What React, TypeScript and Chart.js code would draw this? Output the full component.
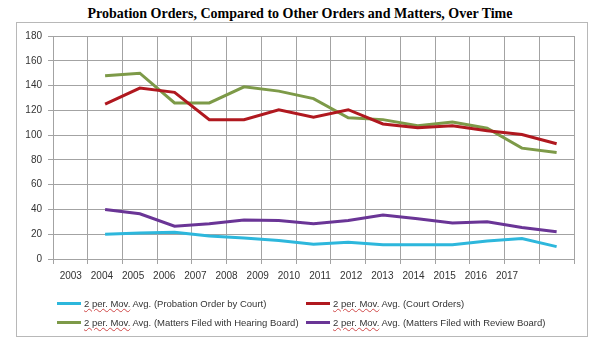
import React, { useEffect, useRef } from 'react';
import { Chart, registerables } from 'chart.js';

Chart.register(...registerables);

// ---- data ----
const categories = ['2003', '2004', '2005', '2006', '2007', '2008', '2009', '2010', '2011', '2012', '2013', '2014', '2015', '2016', '2017'];
const yearTickValues = [2003, 2004, 2005, 2006, 2007, 2008, 2009, 2010, 2011, 2012, 2013, 2014, 2015, 2016, 2017];

const probationByCourt = [null, 20, 21, 21.5, 18.5, 17, 15, 12, 13.5, 11.5, 11.5, 11.5, 14.5, 16.5, 10];
const courtOrders = [null, 125, 138, 134.5, 112.5, 112.5, 120.5, 114.5, 120.5, 109, 106, 107.5, 103.5, 100.5, 93];
const hearingBoard = [null, 148, 150, 126, 126, 139, 135.5, 129.5, 114, 112.5, 107.5, 110.5, 105.5, 89.5, 86];
const reviewBoard = [null, 40, 36.5, 26.5, 28.5, 31.5, 31, 28.5, 31, 35.5, 32.5, 29, 30, 25.5, 22];

const seriesNames = [
  '(Probation Order by Court)',
  '(Court Orders)',
  '(Matters Filed with Hearing Board)',
  '(Matters Filed with Review Board)',
];
const seriesColors = ['#2db7dc', '#b0181f', '#7d9a48', '#6a3596'];

const GRID = '#a3a3a3';
const TEXT = '#333333';

function LegendItem({ color, name, left, top }: { color: string; name: string; left: number; top: number }) {
  return (
    <div style={{ position: 'absolute', left, top, height: 14, display: 'flex', alignItems: 'center', whiteSpace: 'nowrap' }}>
      <div style={{ width: 24, height: 3, background: color, marginRight: 3 }} />
      <span style={{ fontFamily: "'Liberation Sans', Arial, sans-serif", fontSize: 9.5, color: TEXT }}>
        <span style={{ textDecorationLine: 'underline', textDecorationStyle: 'wavy', textDecorationColor: '#d04a4a' }}>2 per. Mov.</span>
        {' Avg. ' + name}
      </span>
    </div>
  );
}

export default function App() {
  const ref = useRef<HTMLCanvasElement>(null);

  useEffect(() => {
    Chart.defaults.font.family = "'Liberation Sans', Arial, sans-serif";
    Chart.defaults.color = TEXT;
    const values = [probationByCourt, courtOrders, hearingBoard, reviewBoard];
    const chart = new Chart(ref.current as HTMLCanvasElement, {
      type: 'line',
      data: {
        labels: categories,
        datasets: values.map((d, i) => ({
          label: '2 per. Mov. Avg. ' + seriesNames[i],
          data: d,
          borderColor: seriesColors[i],
          backgroundColor: seriesColors[i],
          borderWidth: 3,
          pointRadius: 0,
          tension: 0,
          fill: false,
        })),
      },
      options: {
        responsive: false,
        animation: false,
        devicePixelRatio: 1,
        layout: { padding: { left: 0, right: 26, top: 36, bottom: 0 } },
        plugins: {
          legend: { display: false },
          title: { display: false },
          tooltip: { enabled: false },
        },
        scales: {
          x: {
            type: 'category',
            offset: true,
            grid: { offset: true, color: GRID, tickLength: 5, drawTicks: true },
            border: { color: GRID },
            ticks: { display: false },
            afterFit: (s: any) => { s.height = 5; },
          },
          x2: {
            type: 'linear',
            position: 'bottom',
            weight: 1,
            min: 2002.43,
            max: 2019.15,
            bounds: 'data',
            grid: { display: false, drawTicks: false },
            border: { display: false },
            afterBuildTicks: (s: any) => { s.ticks = yearTickValues.map((v) => ({ value: v })); },
            ticks: {
              callback: (v: any) => String(v),
              padding: 6,
              maxRotation: 0,
              autoSkip: false,
              font: { size: 10 },
              color: TEXT,
            },
            afterFit: (s: any) => { s.height = 36; },
          },
          y: {
            min: 0,
            max: 180,
            ticks: { stepSize: 20, padding: 6, font: { size: 10 }, color: TEXT },
            grid: { color: GRID, tickLength: 5 },
            border: { color: GRID },
            afterFit: (s: any) => { s.width = 53; },
          },
        },
      } as any,
    });
    return () => chart.destroy();
  }, []);

  return (
    <div style={{ position: 'fixed', left: 0, top: 0, width: 600, height: 347, background: '#fff', overflow: 'hidden' }}>
      <div
        style={{
          position: 'absolute', left: 0, top: 7, width: 600, textAlign: 'center',
          fontFamily: "'Liberation Serif', 'Times New Roman', serif", fontWeight: 'bold', fontSize: 14, lineHeight: '14px', color: '#000',
        }}
      >
        Probation Orders, Compared to Other Orders and Matters, Over Time
      </div>
      <div style={{ position: 'absolute', left: 16, top: 22, width: 572, height: 315, border: '1px solid #b8b8b8', boxSizing: 'border-box' }} />
      <canvas ref={ref} width={600} height={300} style={{ position: 'absolute', left: 0, top: 0, width: 600, height: 300 }} />
      <LegendItem color={seriesColors[0]} name={seriesNames[0]} left={57} top={296} />
      <LegendItem color={seriesColors[1]} name={seriesNames[1]} left={306} top={296} />
      <LegendItem color={seriesColors[2]} name={seriesNames[2]} left={57} top={315} />
      <LegendItem color={seriesColors[3]} name={seriesNames[3]} left={306} top={315} />
    </div>
  );
}
